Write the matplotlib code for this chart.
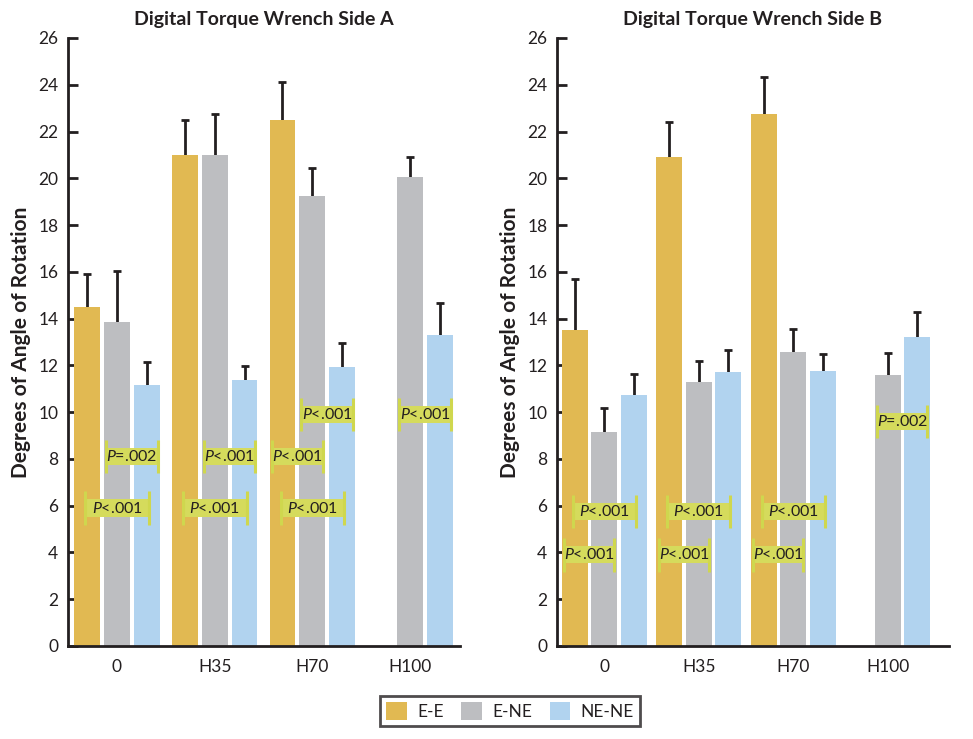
import numpy as np
import matplotlib
matplotlib.use("Agg")
import matplotlib.pyplot as plt
from matplotlib.patches import Rectangle

plt.rcParams['font.family'] = ['Lato', 'DejaVu Sans']
plt.rcParams['mathtext.fontset'] = 'custom'
plt.rcParams['mathtext.it'] = 'Lato:italic'
plt.rcParams['mathtext.rm'] = 'Lato'

groups = ['0', 'H35', 'H70', 'H100']
series = ['E-E', 'E-NE', 'NE-NE']
colors = ['#E1B952', '#BDBEC1', '#B1D3EF']

# Side A: means and (upper) SD
side_a = [
    [14.5, 21.0, 22.5, np.nan],
    [13.85, 21.0, 19.25, 20.05],
    [11.15, 11.38, 11.95, 13.3],
]
side_a_err = [
    [1.4, 1.5, 1.6, np.nan],
    [2.2, 1.75, 1.2, 0.85],
    [1.0, 0.6, 1.0, 1.35],
]
# Side B
side_b = [
    [13.5, 20.9, 22.75, np.nan],
    [9.15, 11.3, 12.57, 11.6],
    [10.75, 11.72, 11.76, 13.22],
]
side_b_err = [
    [2.2, 1.5, 1.6, np.nan],
    [1.03, 0.9, 1.0, 0.95],
    [0.9, 0.95, 0.73, 1.07],
]

# comparisons: (group, bar a, bar b, level, p text)
comp_a = [
    (0, 0, 2, 5.9, '<.001'), (0, 1, 2, 8.1, '=.002'),
    (1, 0, 2, 5.9, '<.001'), (1, 1, 2, 8.1, '<.001'),
    (2, 0, 2, 5.9, '<.001'), (2, 0, 1, 8.1, '<.001'), (2, 1, 2, 9.9, '<.001'),
    (3, 1, 2, 9.9, '<.001'),
]
comp_b = [
    (0, 0, 2, 5.75, '<.001'), (0, 0, 1, 3.9, '<.001'),
    (1, 0, 2, 5.75, '<.001'), (1, 0, 1, 3.9, '<.001'),
    (2, 0, 2, 5.75, '<.001'), (2, 0, 1, 3.9, '<.001'),
    (3, 1, 2, 9.6, '=.002'),
]

dark = '#231F20'
fig = plt.figure(figsize=(9.73, 7.39), dpi=100)
ax1 = fig.add_axes([68/973, 1-646/739, 392/973, 608/739])
ax2 = fig.add_axes([557/973, 1-646/739, 392/973, 608/739])


def draw(ax, vals, errs, comps, title, stride, width, xmax):
    x = np.arange(len(groups))
    handles = []
    for i in range(3):
        xi = x + (i - 1) * stride
        v = np.array(vals[i])
        e = np.array(errs[i])
        b = ax.bar(xi, v, width, color=colors[i], label=series[i], zorder=2)
        handles.append(b)
        # symmetric bars drawn behind the bar, so only the upper half shows
        ax.errorbar(xi, v, yerr=e, fmt='none', ecolor=dark,
                    elinewidth=2, capsize=3, capthick=2, zorder=1)
    for g, a, bb, lvl, txt in comps:
        xa = g + (a - 1) * stride
        xb = g + (bb - 1) * stride
        mid = (xa + xb) / 2
        hw = max(abs(xb - xa) / 2 + 0.02, 0.265)
        ax.add_patch(Rectangle((mid - hw, lvl - 0.37), 2 * hw, 0.74,
                               facecolor='#D5DB5C', edgecolor='none', zorder=4))
        for xe in (mid - hw, mid + hw):
            ax.plot([xe, xe], [lvl - 0.72, lvl + 0.72], color='#CFD74E',
                    lw=2.2, zorder=5, solid_capstyle='butt')
        ax.text(mid, lvl, r'$\it{P}$' + txt, ha='center', va='center',
                fontsize=11.5, color=dark, zorder=6)
    ax.set_ylim(0, 26)
    ax.set_yticks(range(0, 27, 2))
    ax.set_xlim(-0.5, xmax)
    ax.set_xticks(x)
    ax.set_xticklabels(groups)
    for s in ('top', 'right'):
        ax.spines[s].set_visible(False)
    for s in ('left', 'bottom'):
        ax.spines[s].set_linewidth(2)
        ax.spines[s].set_color(dark)
    ax.tick_params(axis='y', direction='in', length=7, width=2, color=dark,
                   labelsize=12.5, labelcolor=dark, pad=7)
    ax.tick_params(axis='x', length=0, labelsize=12.5, labelcolor=dark, pad=9)
    ax.set_title(title, fontsize=14, fontweight='bold', color=dark, pad=9)
    ax.set_ylabel('Degrees of Angle of Rotation', fontsize=15,
                  fontweight='bold', color=dark, labelpad=5)
    return handles


h = draw(ax1, side_a, side_a_err, comp_a, 'Digital Torque Wrench Side A',
         0.306, 0.265, 3.51)
draw(ax2, side_b, side_b_err, comp_b, 'Digital Torque Wrench Side B',
     0.313, 0.276, 3.65)

leg = fig.legend(h, series, loc='center', bbox_to_anchor=(510/973, 1-711/739),
                 ncol=3, fontsize=12.5, frameon=True, fancybox=False,
                 handlelength=1.2, handleheight=1.2, columnspacing=1.0,
                 handletextpad=0.6, borderpad=0.35, borderaxespad=0)
leg.get_frame().set_edgecolor(dark)
leg.get_frame().set_linewidth(2)
for t in leg.get_texts():
    t.set_color(dark)

fig.savefig('out.png', dpi=100)
